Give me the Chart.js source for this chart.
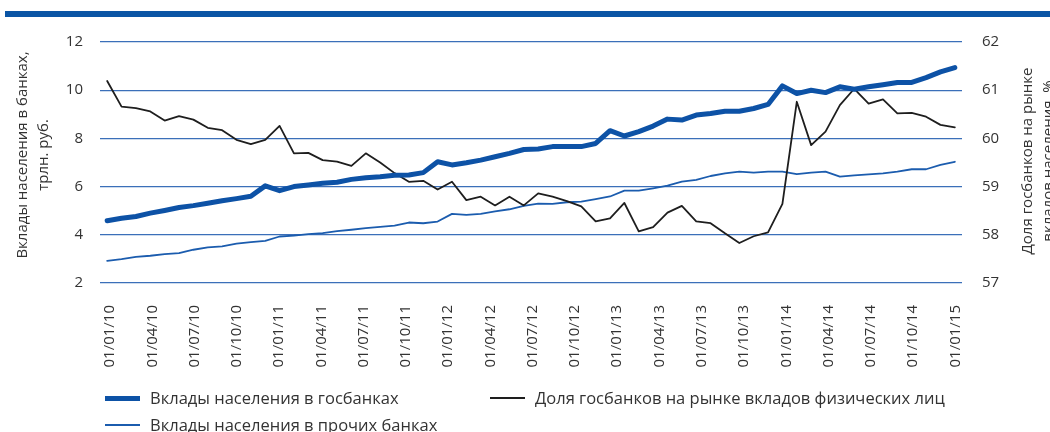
<!DOCTYPE html>
<html>
<head>
<meta charset="utf-8">
<script src="https://cdn.jsdelivr.net/npm/chart.js@4.4.1/dist/chart.umd.min.js"></script>
<style>
  body { margin: 0; background: #fff; font-family: "Open Sans", sans-serif; color: #333; }
  #wrap { position: relative; width: 1050px; height: 432px; overflow: hidden; }
  #topbar { position: absolute; left: 5px; top: 11px; width: 1045px; height: 6px; background: #0b55a5; }
  canvas { position: absolute; left: 0; top: 0; }
  .lg { position: absolute; font-size: 16.5px; line-height: 22px; white-space: nowrap; }
  .lg i { position: absolute; left: -45px; width: 35px; }
</style>
</head>
<body>
<div id="wrap">
  <div id="topbar"></div>
  <canvas id="myChart" width="1050" height="432"></canvas>
  <div id="legend"></div>
</div>
<script>
// monthly points 01/01/10 .. 01/12/14
const months = [];
for (let y = 10; y <= 14; y++) {
  for (let m = 1; m <= 12; m++) {
    months.push('01/' + String(m).padStart(2, '0') + '/' + y);
  }
}

// axis labels every 3 months
const tickLabels = ['01/01/10', '01/04/10', '01/07/10', '01/10/10', '01/01/11', '01/04/11', '01/07/11',
  '01/10/11', '01/01/12', '01/04/12', '01/07/12', '01/10/12', '01/01/13', '01/04/13', '01/07/13',
  '01/10/13', '01/01/14', '01/04/14', '01/07/14', '01/10/14', '01/01/15'];

// трлн. руб.
const govBanks = [4.58, 4.69, 4.76, 4.90, 5.01, 5.13, 5.21, 5.31, 5.41, 5.50,
  5.60, 6.03, 5.83, 6.00, 6.07, 6.14, 6.18, 6.30, 6.37, 6.41,
  6.47, 6.48, 6.58, 7.03, 6.90, 6.99, 7.10, 7.24, 7.38, 7.54,
  7.56, 7.66, 7.66, 7.66, 7.79, 8.32, 8.10, 8.28, 8.51, 8.80,
  8.76, 8.97, 9.03, 9.13, 9.13, 9.24, 9.41, 10.18, 9.86, 10.00,
  9.90, 10.14, 10.04, 10.14, 10.23, 10.32, 10.32, 10.52, 10.76, 10.94];

const otherBanks = [2.92, 2.99, 3.08, 3.13, 3.20, 3.24, 3.38, 3.48, 3.52, 3.63,
  3.70, 3.75, 3.93, 3.97, 4.03, 4.07, 4.15, 4.21, 4.28, 4.33,
  4.38, 4.51, 4.48, 4.55, 4.87, 4.83, 4.87, 4.97, 5.06, 5.20,
  5.29, 5.28, 5.35, 5.38, 5.48, 5.59, 5.83, 5.83, 5.93, 6.04,
  6.21, 6.28, 6.44, 6.55, 6.62, 6.58, 6.62, 6.62, 6.52, 6.58,
  6.62, 6.41, 6.47, 6.51, 6.55, 6.62, 6.72, 6.72, 6.90, 7.03];

// %
const govShare = [61.19, 60.66, 60.63, 60.56, 60.37, 60.46, 60.39, 60.22, 60.17, 59.97,
  59.88, 59.97, 60.26, 59.69, 59.70, 59.55, 59.52, 59.43, 59.69, 59.50,
  59.28, 59.10, 59.12, 58.94, 59.10, 58.72, 58.79, 58.61, 58.79, 58.61,
  58.86, 58.79, 58.70, 58.59, 58.28, 58.34, 58.66, 58.07, 58.16, 58.46,
  58.60, 58.28, 58.24, 58.03, 57.83, 57.97, 58.05, 58.64, 60.76, 59.86,
  60.14, 60.69, 61.03, 60.72, 60.81, 60.52, 60.53, 60.45, 60.28, 60.23];

const leftTitle = ['Вклады населения в банках,', 'трлн. руб.'];
const rightTitle = ['Доля госбанков на рынке', 'вкладов населения, %'];

const FONT = '"Open Sans", sans-serif';
const textColor = '#333';
const gridColor = '#3b6fb9';

// both axis titles read bottom-to-top, drawn by hand
const axisTitles = {
  id: 'axisTitles',
  afterDraw(chart) {
    const c = chart.ctx;
    const put = (lines, x, y) => {
      c.save();
      c.translate(x, y);
      c.rotate(-Math.PI / 2);
      lines.forEach((t, i) => c.fillText(t, 0, i * 21));
      c.restore();
    };
    c.save();
    c.font = '15px ' + FONT;
    c.fillStyle = textColor;
    c.textAlign = 'center';
    c.textBaseline = 'middle';
    put(leftTitle, 23, 155);
    put(rightTitle, 1028, 161);
    c.restore();
  }
};

const ctx = document.getElementById('myChart');
const chart = new Chart(ctx, {
  type: 'line',
  data: {
    labels: months,
    datasets: [
      {
        label: 'Вклады населения в госбанках',
        data: govBanks,
        borderColor: '#0d52a6',
        borderWidth: 5,
        yAxisID: 'y',
        xAxisID: 'x',
      },
      {
        label: 'Доля госбанков на рынке вкладов физических лиц',
        data: govShare,
        borderColor: '#1e1e1e',
        borderWidth: 1.8,
        yAxisID: 'y1',
        xAxisID: 'x',
      },
      {
        label: 'Вклады населения в прочих банках',
        data: otherBanks,
        borderColor: '#1b5cae',
        borderWidth: 1.8,
        yAxisID: 'y',
        xAxisID: 'x',
      },
    ],
  },
  options: {
    responsive: false,
    animation: false,
    layout: { padding: { top: 42, left: 0, right: 0, bottom: 0 } },
    elements: {
      point: { radius: 0 },
      line: { tension: 0, borderJoinStyle: 'round', borderCapStyle: 'round' },
    },
    scales: {
      x: {
        type: 'category',
        offset: true,
        display: false,
      },
      xl: {
        type: 'linear',
        position: 'bottom',
        min: -0.71,
        max: 60.47,
        grid: { display: false },
        border: { display: false },
        afterBuildTicks: (axis) => {
          axis.ticks = tickLabels.map((t, i) => ({ value: i * 3 }));
        },
        afterFit: (axis) => { axis.height = 432 - 283; },
        ticks: {
          autoSkip: false,
          minRotation: 90,
          maxRotation: 90,
          padding: 14,
          color: textColor,
          font: { family: FONT, size: 15 },
          callback: (v) => tickLabels[Math.round(v / 3)],
        },
      },
      y: {
        position: 'left',
        min: 2,
        max: 12,
        afterFit: (axis) => { axis.width = 100; },
        grid: { color: gridColor, lineWidth: 1.3, drawTicks: false },
        border: { display: false },
        ticks: {
          stepSize: 2,
          padding: 17,
          color: textColor,
          font: { family: FONT, size: 15 },
        },
      },
      y1: {
        position: 'right',
        min: 57,
        max: 62,
        afterFit: (axis) => { axis.width = 1050 - 962; },
        grid: { display: false, drawTicks: false },
        border: { display: false },
        ticks: {
          stepSize: 1,
          padding: 20,
          color: textColor,
          font: { family: FONT, size: 15 },
        },
      },
    },
    plugins: {
      legend: { display: false },
      tooltip: { enabled: false },
    },
  },
  plugins: [axisTitles],
});

// legend in two columns like the original
const legendPos = [
  { left: 150, top: 387 },
  { left: 535, top: 387 },
  { left: 150, top: 414 },
];
const legendEl = document.getElementById('legend');
chart.data.datasets.forEach((ds, i) => {
  const d = document.createElement('div');
  d.className = 'lg';
  d.style.left = legendPos[i].left + 'px';
  d.style.top = legendPos[i].top + 'px';
  const mark = document.createElement('i');
  mark.style.height = ds.borderWidth + 'px';
  mark.style.top = (11 - ds.borderWidth / 2) + 'px';
  mark.style.background = ds.borderColor;
  d.appendChild(mark);
  d.appendChild(document.createTextNode(ds.label));
  legendEl.appendChild(d);
});
</script>
</body>
</html>
